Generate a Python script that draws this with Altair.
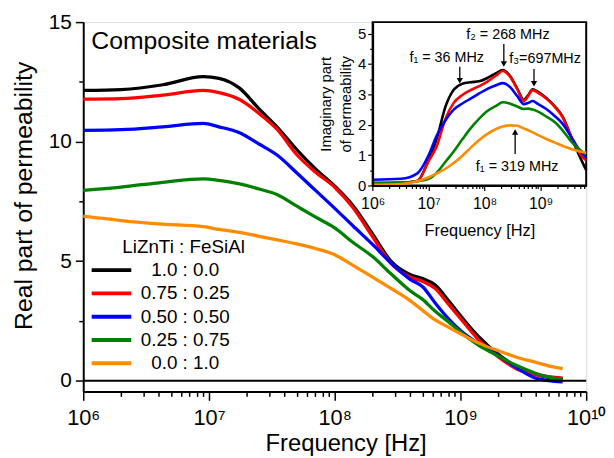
import altair as alt
import pandas as pd

# ---------------- data ----------------
series = ["1.0 : 0.0", "0.75 : 0.25", "0.50 : 0.50", "0.25 : 0.75", "0.0 : 1.0"]
colors = ["#000000", "#ff0000", "#0000ff", "#008000", "#ff8c00"]

freq_main = [1e6, 2e6, 4.3e6, 9e6, 1.2e7, 1.75e7, 2.5e7, 3.5e7, 5e7, 7e7, 1e8, 1.4e8,
             2e8, 2.8e8, 4e8, 5e8, 6.3e8, 8e8, 1e9, 1.4e9, 2e9, 2.8e9, 4e9, 5e9, 6.5e9]
real_100 = [12.14, 12.18, 12.38, 12.72, 12.65, 12.24, 11.37, 10.6, 9.66, 8.87, 8.14, 7.32,
            6.14, 5.0, 4.43, 4.27, 4.0, 3.36, 2.72, 1.83, 1.1, 0.58, 0.26, 0.14, 0.08]
real_075 = [11.78, 11.8, 11.95, 12.14, 12.05, 11.76, 11.18, 10.5, 9.45, 8.73, 8.09, 7.23,
            6.02, 4.91, 4.33, 4.15, 3.85, 3.21, 2.6, 1.7, 0.99, 0.49, 0.25, 0.17, 0.11]
real_050 = [10.47, 10.5, 10.62, 10.76, 10.62, 10.37, 9.9, 9.43, 8.69, 7.97, 7.21, 6.47,
            5.7, 4.92, 4.23, 3.93, 3.25, 2.6, 2.1, 1.54, 1.05, 0.54, 0.1, 0.0, -0.05]
real_025 = [7.96, 8.1, 8.3, 8.44, 8.38, 8.23, 8.02, 7.78, 7.3, 6.85, 6.39, 5.78,
            5.19, 4.47, 3.75, 3.4, 2.9, 2.47, 2.04, 1.48, 1.03, 0.63, 0.3, 0.15, 0.05]
real_000 = [6.88, 6.7, 6.55, 6.44, 6.33, 6.2, 6.04, 5.89, 5.72, 5.53, 5.27, 4.82,
            4.33, 3.86, 3.34, 2.94, 2.54, 2.24, 1.96, 1.57, 1.25, 0.98, 0.76, 0.62, 0.5]

freq_inset = [1e6, 3.2e6, 6.3e6, 1e7, 1.4e7, 2e7, 2.8e7, 4e7, 5.6e7, 8e7, 1.12e8, 1.6e8,
              2.1e8, 2.8e8, 3.8e8, 5e8, 6e8, 7.2e8, 9e8, 1.26e9, 1.8e9, 2.5e9, 3.5e9, 5e9, 6.5e9]
imag_100 = [0.08, 0.09, 0.15, 0.85, 1.55, 2.6, 3.15, 3.35, 3.4, 3.43, 3.54, 3.7,
            3.8, 3.62, 3.2, 2.82, 2.98, 3.17, 3.08, 2.88, 2.6, 2.25, 1.6, 0.95, 0.5]
imag_075 = [0.08, 0.09, 0.15, 0.8, 1.3, 2.2, 2.72, 2.98, 3.14, 3.27, 3.42, 3.62,
            3.77, 3.6, 3.18, 2.78, 2.95, 3.14, 3.05, 2.86, 2.58, 2.23, 1.62, 1.05, 0.82]
imag_050 = [0.19, 0.22, 0.4, 1.0, 1.65, 2.15, 2.5, 2.7, 2.86, 3.03, 3.18, 3.3,
            3.37, 3.25, 2.95, 2.68, 2.72, 2.78, 2.68, 2.52, 2.28, 2.02, 1.6, 1.15, 0.92]
imag_025 = [0.08, 0.1, 0.14, 0.22, 0.42, 0.78, 1.12, 1.52, 1.88, 2.2, 2.45, 2.62,
            2.74, 2.7, 2.6, 2.52, 2.53, 2.5, 2.43, 2.27, 2.08, 1.8, 1.45, 1.18, 1.03]
imag_000 = [0.02, 0.05, 0.14, 0.27, 0.4, 0.55, 0.74, 0.98, 1.24, 1.5, 1.7, 1.86,
            1.94, 1.98, 1.97, 1.88, 1.82, 1.75, 1.66, 1.53, 1.41, 1.3, 1.2, 1.12, 1.08]

# inset annotations
ann_text = ["f\u2081 = 36 MHz", "f\u2082 = 268 MHz", "f\u2083=697MHz", "f\u2081 = 319 MHz"]
ann_f = [2.1e7, 2.6e8, 1.2e9, 3.8e8]
ann_v = [4.2, 4.95, 4.18, 0.62]
arrow_f = [3.6e7, 2.2e8, 7.6e8, 3.5e8]
arrow_start = [3.91, 4.66, 3.84, 1.04]
arrow_end = [3.45, 4.0, 3.35, 1.76]
arrow_head = ["triangle-down", "triangle-down", "triangle-down", "triangle-up"]

main_f_domain = [1e6, 1e10]
main_v_domain = [-0.45, 15]
inset_f_domain = [1e6, 6.5e9]
inset_v_domain = [0, 5.38]

major_x = [1e6, 1e7, 1e8, 1e9, 1e10]
minor_x = [k * d for d in [1e6, 1e7, 1e8, 1e9] for k in range(2, 10)]

# ---------------- geometry (pixels, inside the main plot) ----------------
W, H = 508, 373
INSET_LEFT, INSET_BOTTOM = 292.3, 165

# ---------------- tables ----------------
def long_table(freqs, arrays):
    rows = []
    for i, (s, arr) in enumerate(zip(series, arrays)):
        for f, v in zip(freqs, arr):
            rows.append({"f": f, "v": v, "series": s, "k": i})
    return pd.DataFrame(rows)

df_main = long_table(freq_main, [real_100, real_075, real_050, real_025, real_000])
df_inset = long_table(freq_inset, [imag_100, imag_075, imag_050, imag_025, imag_000])
df_ann = pd.DataFrame({"f": ann_f, "v": ann_v, "t": ann_text})
df_arrow = pd.DataFrame({"f": arrow_f, "v1": arrow_start, "v2": arrow_end, "shape": arrow_head})
df_frame = pd.DataFrame({"f1": [inset_f_domain[0]], "f2": [inset_f_domain[1]],
                         "v1": [inset_v_domain[0]], "v2": [inset_v_domain[1]]})

label_expr = ("datum.value == 1e6 ? '10\u2076' : datum.value == 1e7 ? '10\u2077' : "
              "datum.value == 1e8 ? '10\u2078' : datum.value == 1e9 ? '10\u2079' : '10\u00b9\u2070'")

color_scale = alt.Scale(domain=series, range=colors)
common_axis = dict(tickColor="black", domainColor="black", labelColor="black", titleColor="black",
                   grid=False, titleFontWeight="normal")

# ---------------- main plot ----------------
xs = alt.Scale(type="log", domain=main_f_domain, nice=False)
ys = alt.Scale(domain=main_v_domain, nice=False, zero=False)

main_lines = alt.Chart(df_main).mark_line(strokeWidth=3.3, interpolate="monotone").encode(
    x=alt.X("f:Q", scale=xs, axis=alt.Axis(values=major_x, labelExpr=label_expr, title="Frequency [Hz]",
                                           titleFontSize=24, labelFontSize=22, tickSize=9, tickWidth=1.5,
                                           domainWidth=2, labelOverlap=False, labelFlush=False,
                                           labelPadding=7, titleX=265, titleY=60,
                                           titleBaseline="alphabetic", orient="bottom", **common_axis)),
    y=alt.Y("v:Q", scale=ys, axis=alt.Axis(values=[0, 5, 10, 15], title="Real part of permeability",
                                           titleFontSize=25, labelFontSize=21, tickSize=8, tickWidth=1.5,
                                           domainWidth=2, labelPadding=4, titlePadding=12, titleY=175,
                                           orient="left", **common_axis)),
    color=alt.Color("series:N", scale=color_scale,
                    legend=alt.Legend(orient="none", legendX=19, legendY=241, title=None,
                                      symbolType="M-4,0H4", symbolSize=100, symbolStrokeWidth=4,
                                      labelFontSize=19, labelAlign="center", labelOffset=65,
                                      rowPadding=3.5, padding=0, labelColor="black", labelLimit=0)),
    order="k:Q",
)
main_minor = alt.Chart(df_main).mark_point(opacity=0).encode(
    x=alt.X("f:Q", scale=xs, axis=alt.Axis(values=minor_x, labels=False, tickSize=5, tickWidth=1.5,
                                           domain=False, title=None, orient="bottom", **common_axis)),
    y=alt.Y("v:Q", scale=ys, axis=alt.Axis(values=[2.5, 7.5, 12.5], labels=False, tickSize=4.5,
                                           tickWidth=1.5, domain=False, title=None, orient="left",
                                           **common_axis)),
)
zero_rule = alt.Chart(pd.DataFrame({"v": [0.0]})).mark_rule(color="black", strokeWidth=2).encode(
    y=alt.Y("v:Q", scale=ys, axis=None))
comp_text = alt.Chart(pd.DataFrame({"f": [1.16e6], "v": [13.88], "t": ["Composite materials"]})).mark_text(
    align="left", baseline="alphabetic", fontSize=25, color="black").encode(
    x=alt.X("f:Q", scale=xs, axis=None), y=alt.Y("v:Q", scale=ys, axis=None), text="t:N")
leg_title = alt.Chart(pd.DataFrame({"f": [6.28e6], "v": [5.59], "t": ["LiZnTi : FeSiAl"]})).mark_text(
    align="center", baseline="middle", fontSize=19, color="black").encode(
    x=alt.X("f:Q", scale=xs, axis=None), y=alt.Y("v:Q", scale=ys, axis=None), text="t:N")

main = alt.layer(main_lines, main_minor, zero_rule, comp_text, leg_title).resolve_axis(
    x="independent", y="independent")

# ---------------- inset (own scales mapped to the top-right corner) ----------------
xi = alt.Scale(type="log", domain=inset_f_domain, nice=False, range=[INSET_LEFT, W])
yi = alt.Scale(domain=inset_v_domain, nice=False, zero=False, range=[INSET_BOTTOM, 0])
inset_axis = dict(common_axis, zindex=1)

frame = alt.Chart(df_frame).mark_rect(fill="white", stroke="black", strokeWidth=2).encode(
    x=alt.X("f1:Q", scale=xi, axis=None), x2="f2:Q",
    y=alt.Y("v1:Q", scale=yi, axis=None), y2="v2:Q")
inset_lines = alt.Chart(df_inset).mark_line(strokeWidth=2.6, interpolate="monotone").encode(
    x=alt.X("f:Q", scale=xi, axis=alt.Axis(values=major_x[:4], labelExpr=label_expr, title="Frequency [Hz]",
                                           titleFontSize=16.5, labelFontSize=16, tickSize=5, tickWidth=1.2,
                                           domainWidth=2, labelOverlap=False, labelFlush=False,
                                           labelPadding=5, titlePadding=12, orient="bottom",
                                           offset=INSET_BOTTOM - H, **inset_axis)),
    y=alt.Y("v:Q", scale=yi, axis=alt.Axis(values=[0, 1, 2, 3, 4, 5],
                                           title=["Imaginary part", "of permeability"],
                                           titleFontSize=15, titleLineHeight=20, labelFontSize=15,
                                           tickSize=5, tickWidth=1.2, domainWidth=2, labelPadding=2,
                                           titlePadding=4, orient="left", offset=-INSET_LEFT,
                                           **inset_axis)),
    color=alt.Color("series:N", scale=color_scale, legend=None),
    order="k:Q",
)
inset_minor = alt.Chart(df_inset).mark_point(opacity=0).encode(
    x=alt.X("f:Q", scale=xi, axis=alt.Axis(values=minor_x, labels=False, tickSize=3, tickWidth=1.2,
                                           domain=False, title=None, orient="bottom",
                                           offset=INSET_BOTTOM - H, **inset_axis)),
    y=alt.Y("v:Q", scale=yi, axis=alt.Axis(values=[0.5, 1.5, 2.5, 3.5, 4.5], labels=False, tickSize=3,
                                           tickWidth=1.2, domain=False, title=None, orient="left",
                                           offset=-INSET_LEFT, **inset_axis)),
)
ann = alt.Chart(df_ann).mark_text(fontSize=14.5, color="black", align="center", baseline="middle").encode(
    x=alt.X("f:Q", scale=xi, axis=None), y=alt.Y("v:Q", scale=yi, axis=None), text="t:N")
shafts = alt.Chart(df_arrow).mark_rule(color="black", strokeWidth=1.3).encode(
    x=alt.X("f:Q", scale=xi, axis=None), y=alt.Y("v1:Q", scale=yi, axis=None), y2="v2:Q")
heads = alt.Chart(df_arrow).mark_point(filled=True, color="black", size=40, opacity=1).encode(
    x=alt.X("f:Q", scale=xi, axis=None), y=alt.Y("v2:Q", scale=yi, axis=None),
    shape=alt.Shape("shape:N", scale=None))

inset = alt.layer(frame, inset_lines, inset_minor, shafts, heads, ann).resolve_axis(
    x="independent", y="independent")

chart = alt.layer(main, inset).resolve_scale(x="independent", y="independent").resolve_axis(
    x="independent", y="independent").properties(
    width=W, height=H, padding={"left": 3, "top": 1, "right": 0, "bottom": 0}).configure_view(
    stroke="black", strokeWidth=2).configure(font="Liberation Sans")

chart.save("out.html", embed_options={"renderer": "svg", "actions": False})
